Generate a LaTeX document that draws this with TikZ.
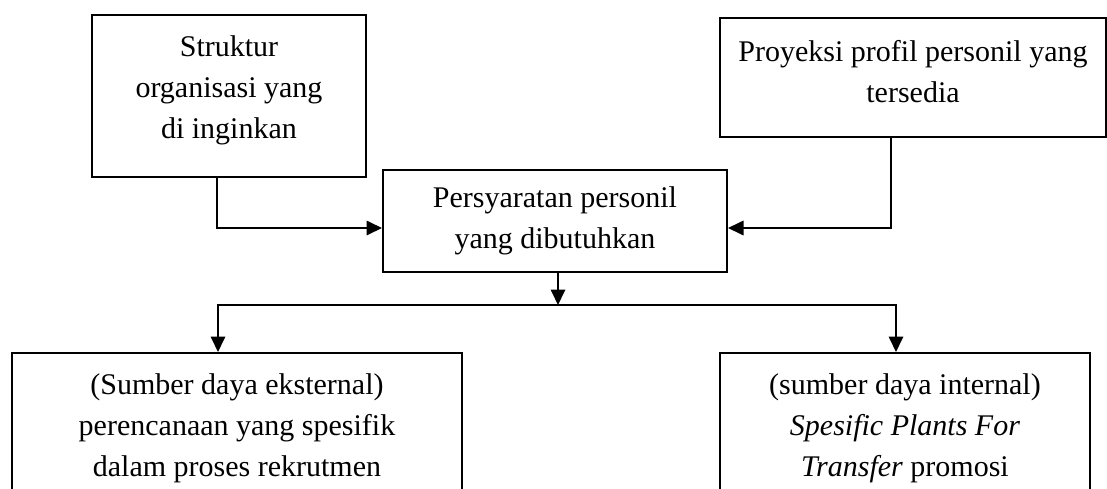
\documentclass[tikz,border=0pt]{standalone}
\usepackage{fontspec}
\setmainfont{Liberation Serif}
\usetikzlibrary{arrows.meta, positioning, calc}

\begin{document}
\begin{tikzpicture}[
    x=0.4pt, y=-0.4pt,
    font=\fontsize{12}{16.4}\selectfont,
    box/.style={draw, line width=0.8pt, align=center, inner sep=0pt},
    arrow/.style={-{Triangle[length=6.2pt, width=5.8pt]}, line width=0.7pt}
]
    \useasboundingbox (0,0) rectangle (1107,488);
    \node[box, minimum width=109.6pt, minimum height=64.8pt, text depth=7.4pt] (struktur) at (229,96) {Struktur\\organisasi yang\\di inginkan};
    \node[box, minimum width=154.4pt, minimum height=47.6pt, text depth=5pt] (proyeksi) at (913,77.5) {Proyeksi profil personil yang\\tersedia};
    \node[box, minimum width=137.6pt, minimum height=40.8pt] (syarat) at (555,221) {Persyaratan personil\\yang dibutuhkan};
    \node[box, minimum width=180pt, minimum height=60pt] (eksternal) at (237,428) {(Sumber daya eksternal)\\perencanaan yang spesifik\\dalam proses rekrutmen};
    \node[box, minimum width=148pt, minimum height=60pt] (internal) at (905,428) {(sumber daya internal)\\\textit{Spesific Plants For}\\\textit{Transfer} promosi};
    \coordinate (cabang) at (558,305);
    \draw[arrow] ([xshift=-4.8pt]struktur.south) |- ([yshift=-2.8pt]syarat.west);
    \draw[arrow] ([xshift=-8.8pt]proyeksi.south) |- ([yshift=-2.8pt]syarat.east);
    \draw[arrow] (syarat.south -| cabang) -- (cabang);
    \draw[arrow] (cabang) -| ([xshift=-7.6pt]eksternal.north);
    \draw[arrow] (cabang) -| ([xshift=-3.6pt]internal.north);
\end{tikzpicture}
\end{document}
